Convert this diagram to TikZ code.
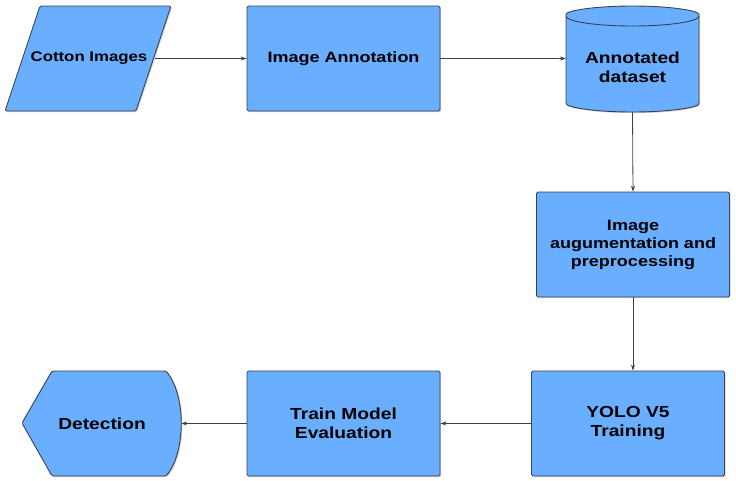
\documentclass[tikz,border=0pt]{standalone}
\usepackage{fontspec}
\setmainfont{Liberation Sans}[FakeStretch=1.2]
\usepackage{tikz}
\usetikzlibrary{arrows.meta,positioning,shadows}
\definecolor{boxblue}{HTML}{6AAEFF}
\definecolor{edgegray}{HTML}{3A404C}

\begin{document}
\begin{tikzpicture}[x=1pt,y=-1pt,
    stepbox/.style={draw=edgegray,fill=boxblue,line width=0.9pt,rounded corners=1.5pt,
      drop shadow={shadow xshift=1.2pt,shadow yshift=-1.2pt,opacity=0.35},
      minimum width=193pt,minimum height=105pt,align=center,inner sep=0pt},
    shapebody/.style={draw=edgegray,fill=boxblue,line width=0.9pt,rounded corners=1.5pt,
      drop shadow={shadow xshift=1.2pt,shadow yshift=-1.2pt,opacity=0.35}},
    lbl/.style={font=\fontsize{15}{18}\selectfont\bfseries,align=center,inner sep=0pt},
    biglbl/.style={font=\fontsize{16}{19}\selectfont\bfseries,align=center,inner sep=0pt},
    flow/.style={draw=edgegray,line width=0.8pt,-{Stealth[length=6pt,width=4pt]}}]
  \useasboundingbox (0,0) rectangle (736,480);
  % odd shapes drawn as paths, text as named nodes on top
  \path[shapebody] (40,6) -- (171,6) -- (136,111) -- (5,111) -- cycle;
  \path[shapebody] (566,16) -- (566,102) arc[start angle=180,end angle=0,x radius=66.5,y radius=10]
    -- (699,16) arc[start angle=0,end angle=-180,x radius=66.5,y radius=10] -- cycle;
  \draw[draw=edgegray,line width=0.9pt] (566,16) arc[start angle=180,end angle=0,x radius=66.5,y radius=10];
  \path[shapebody] (22,423) -- (52,371) -- (166,371) .. controls (186,395) and (186,452) .. (166,476)
    -- (52,476) -- cycle;

  \node[lbl,font=\fontsize{14}{18}\selectfont\bfseries,minimum width=131pt,minimum height=105pt] (cotton) at (89,58.5) {Cotton Images};
  \node[stepbox,lbl] (annot) at (343.5,58.5) {Image Annotation};
  \node[biglbl,minimum width=133pt,minimum height=90pt] (dataset) at (632.5,67) {Annotated\\dataset};
  \node[stepbox,lbl] (augment) at (633,244.5) {Image\\augumentation and\\preprocessing};
  \node[stepbox,biglbl] (yolo) at (628,423.5) {YOLO V5\\Training};
  \node[stepbox,biglbl] (evalbox) at (343.5,423.5) {Train Model\\Evaluation};
  \node[biglbl,minimum width=158pt,minimum height=105pt] (detect) at (102,423.5) {Detection};

  \draw[flow] (cotton.east) -- (annot.west);
  \draw[flow] (annot.east) -- (annot.east -| dataset.west);
  \draw[flow] (dataset.south) -- (augment.north);
  \draw[flow] (augment.south) -- (augment.south |- yolo.north);
  \draw[flow] (yolo.west) -- (evalbox.east);
  \draw[flow] (evalbox.west) -- (detect.east);
\end{tikzpicture}
\end{document}
